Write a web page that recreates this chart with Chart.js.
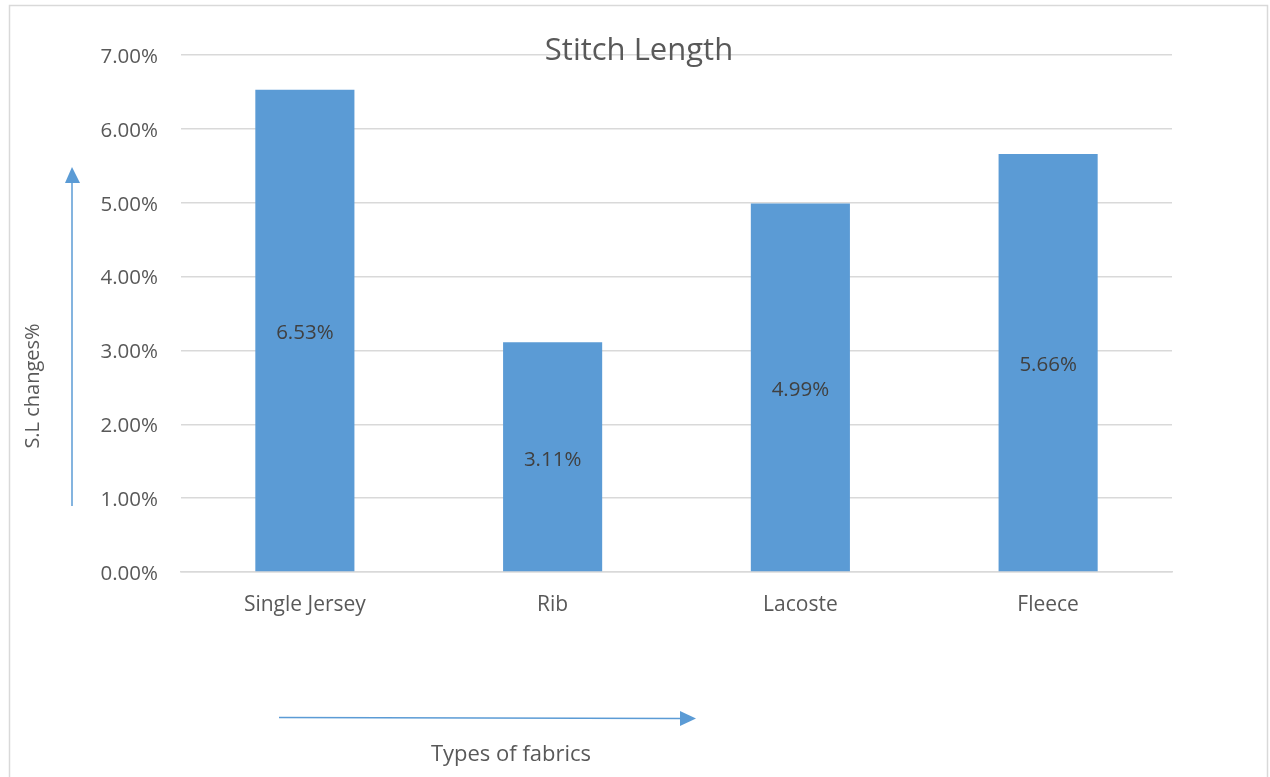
<!DOCTYPE html>
<html>
<head>
<meta charset="utf-8">
<style>
  html, body { margin: 0; padding: 0; background: #ffffff; }
  #wrap { position: relative; width: 1270px; height: 777px; }
  canvas { display: block; }
</style>
<script src="https://cdn.jsdelivr.net/npm/chart.js@4"></script>
</head>
<body>
<div id="wrap"><canvas id="chart" width="1270" height="777"></canvas></div>
<script>
// Stitch length change per fabric type (%)
const fabrics = ['Single Jersey', 'Rib', 'Lacoste', 'Fleece'];
const slChanges = [6.53, 3.11, 4.99, 5.66];
const yTicks = [0, 1, 2, 3, 4, 5, 6, 7];

const FONT = '"Open Sans", "Liberation Sans", sans-serif';
const TEXT = '#595959';

// Frame, title, axis captions with arrows, and in-bar value labels
const decorations = {
  id: 'decorations',
  beforeDraw(chart) {
    const ctx = chart.ctx;
    ctx.save();
    ctx.fillStyle = '#ffffff';
    ctx.fillRect(0, 0, chart.width, chart.height);
    ctx.strokeStyle = '#d9d9d9';
    ctx.lineWidth = 1.5;
    ctx.strokeRect(9.5, 5.5, 1258, 800);
    ctx.restore();
  },
  afterDraw(chart) {
    const ctx = chart.ctx;
    ctx.save();
    // title
    ctx.fillStyle = TEXT;
    ctx.font = '31px ' + FONT;
    ctx.textAlign = 'center';
    ctx.textBaseline = 'middle';
    ctx.fillText('Stitch Length', 639, 51);

    // y caption
    ctx.font = '20px ' + FONT;
    ctx.save();
    ctx.translate(33, 386);
    ctx.rotate(-Math.PI / 2);
    ctx.fillText('S.L changes%', 0, 0);
    ctx.restore();

    // x caption
    ctx.font = '22px ' + FONT;
    ctx.fillText('Types of fabrics', 511, 755);

    // arrows
    ctx.strokeStyle = '#5b9bd5';
    ctx.fillStyle = '#5b9bd5';
    ctx.lineWidth = 1.5;
    ctx.beginPath();
    ctx.moveTo(72, 506);
    ctx.lineTo(72, 180);
    ctx.stroke();
    ctx.beginPath();
    ctx.moveTo(72, 167);
    ctx.lineTo(65, 183);
    ctx.lineTo(80, 183);
    ctx.closePath();
    ctx.fill();

    ctx.beginPath();
    ctx.moveTo(279, 717.5);
    ctx.lineTo(682, 718.5);
    ctx.stroke();
    ctx.beginPath();
    ctx.moveTo(696, 718.5);
    ctx.lineTo(680, 711);
    ctx.lineTo(680, 726);
    ctx.closePath();
    ctx.fill();

    // value labels, centred in each bar
    ctx.fillStyle = '#404040';
    ctx.font = '20.5px ' + FONT;
    const meta = chart.getDatasetMeta(0);
    meta.data.forEach((bar, i) => {
      const y = (bar.y + bar.base) / 2;
      ctx.fillText(slChanges[i].toFixed(2) + '%', bar.x, y + 3);
    });
    ctx.restore();
  }
};

new Chart(document.getElementById('chart'), {
  type: 'bar',
  data: {
    labels: fabrics,
    datasets: [{
      data: slChanges,
      backgroundColor: '#5b9bd5',
      borderWidth: 0,
      barPercentage: 0.4,
      categoryPercentage: 1.0
    }]
  },
  options: {
    responsive: false,
    animation: false,
    devicePixelRatio: 1,
    layout: { padding: { left: 0, top: 55, right: 98, bottom: 0 } },
    plugins: {
      legend: { display: false },
      title: { display: false },
      tooltip: { enabled: false }
    },
    scales: {
      x: {
        grid: { display: false, drawTicks: false },
        border: { display: true, color: '#d9d9d9', width: 1.5 },
        ticks: {
          color: TEXT,
          font: { family: FONT, size: 21 },
          padding: 20,
          maxRotation: 0
        },
        afterFit(scale) { scale.height = 777 - 572; }
      },
      y: {
        min: 0,
        max: 7,
        afterBuildTicks(scale) { scale.ticks = yTicks.map(v => ({ value: v })); },
        grid: { color: '#d9d9d9', lineWidth: 1.5, drawTicks: false },
        border: { display: false },
        ticks: {
          color: TEXT,
          font: { family: FONT, size: 20.5 },
          padding: 23,
          labelOffset: 2,
          callback: v => v.toFixed(2) + '%'
        },
        afterFit(scale) { scale.width = 181; }
      }
    }
  },
  plugins: [decorations]
});
</script>
</body>
</html>
